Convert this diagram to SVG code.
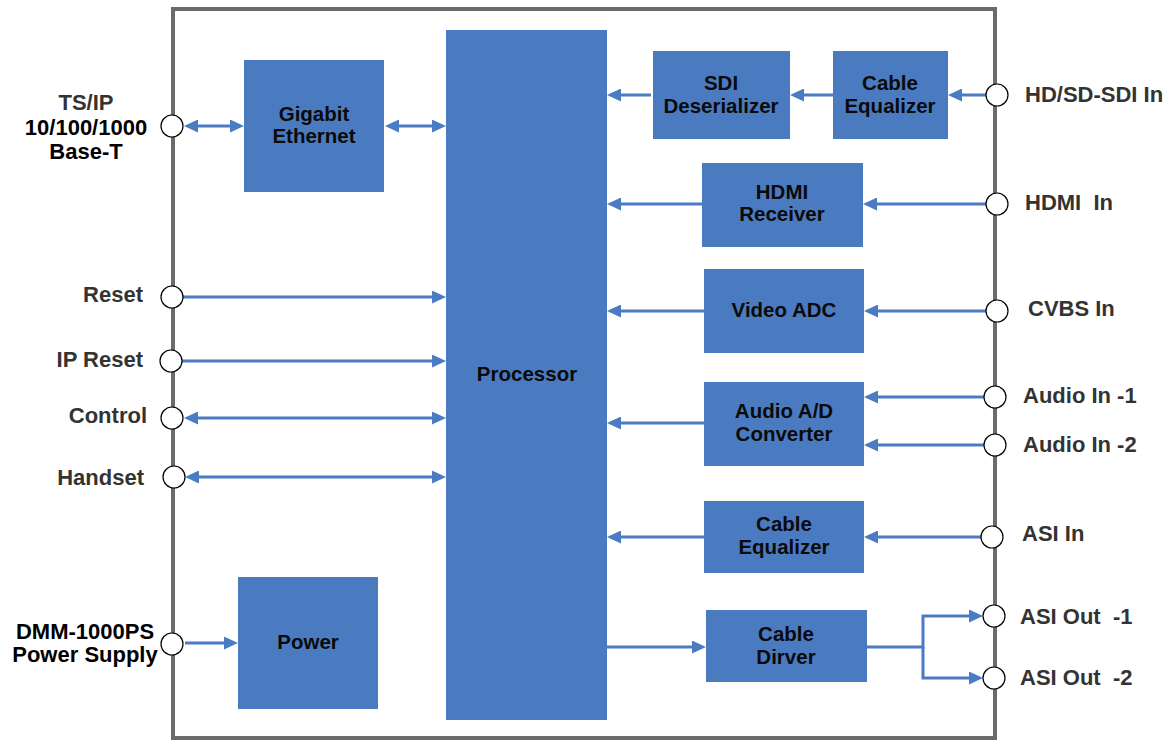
<svg xmlns="http://www.w3.org/2000/svg" width="1172" height="740" viewBox="0 0 1172 740">
<defs>
<style>
.box{fill:#4a7bc1;}
.bt{font-family:"Liberation Sans",Arial,sans-serif;font-weight:bold;font-size:20.5px;fill:#0a0a0a;text-anchor:middle;}
.lb{font-family:"Liberation Sans",Arial,sans-serif;font-weight:bold;font-size:22px;fill:#333333;}
.lk{fill:#000000;}
.port{fill:#ffffff;stroke:#000000;stroke-width:1.2;}
.frame{fill:none;stroke:#6b6b6b;stroke-width:4;}
.cn{fill:none;stroke:#4a7cc4;stroke-width:3;}
.one{marker-end:url(#ah);}
.two{marker-start:url(#ah);marker-end:url(#ah);}
</style>
<marker id="ah" markerUnits="userSpaceOnUse" markerWidth="14" markerHeight="13" refX="10" refY="6.5" orient="auto-start-reverse" viewBox="0 0 14 13">
<path d="M0,0 L14,6.5 L0,13 z" fill="#4a7cc4"/>
</marker>
</defs>
<rect width="1172" height="740" fill="#ffffff"/>
<rect class="frame" x="173" y="9" width="822" height="729"/>

<g id="processor"><rect class="box" x="446" y="30" width="161" height="690"/><text class="bt" x="527" y="381">Processor</text></g>
<g id="gigabit-ethernet"><rect class="box" x="244" y="60" width="140" height="132"/><text class="bt" x="314" y="121">Gigabit</text><text class="bt" x="314" y="143">Ethernet</text></g>
<g id="power"><rect class="box" x="238" y="577" width="140" height="132"/><text class="bt" x="308" y="649">Power</text></g>
<g id="sdi-deserializer"><rect class="box" x="653" y="51" width="137" height="88"/><text class="bt" x="721" y="90">SDI</text><text class="bt" x="721" y="113">Deserializer</text></g>
<g id="cable-equalizer-1"><rect class="box" x="833" y="51" width="115" height="88"/><text class="bt" x="890" y="90">Cable</text><text class="bt" x="890" y="113">Equalizer</text></g>
<g id="hdmi-receiver"><rect class="box" x="702" y="163" width="161" height="84"/><text class="bt" x="782" y="199">HDMI</text><text class="bt" x="782" y="221">Receiver</text></g>
<g id="video-adc"><rect class="box" x="704" y="269" width="160" height="84"/><text class="bt" x="784" y="317">Video ADC</text></g>
<g id="audio-ad"><rect class="box" x="704" y="382" width="160" height="84"/><text class="bt" x="784" y="418">Audio A/D</text><text class="bt" x="784" y="441">Converter</text></g>
<g id="cable-equalizer-2"><rect class="box" x="704" y="501" width="160" height="72"/><text class="bt" x="784" y="531">Cable</text><text class="bt" x="784" y="554">Equalizer</text></g>
<g id="cable-driver"><rect class="box" x="706" y="610" width="161" height="72"/><text class="bt" x="786" y="641">Cable</text><text class="bt" x="786" y="664">Dirver</text></g>

<g id="connectors">
<path class="cn two" d="M188,126 H240"/>
<path class="cn two" d="M389,126 H442"/>
<path class="cn one" d="M183,297 H442"/>
<path class="cn one" d="M182,361 H442"/>
<path class="cn two" d="M188,418 H442"/>
<path class="cn two" d="M189,477 H442"/>
<path class="cn one" d="M185,643 H234"/>
<path class="cn one" d="M986,95 H952"/>
<path class="cn one" d="M833,95 H794"/>
<path class="cn one" d="M651,95 H611"/>
<path class="cn one" d="M986,204 H867"/>
<path class="cn one" d="M702,204 H611"/>
<path class="cn one" d="M986,311 H868"/>
<path class="cn one" d="M704,311 H611"/>
<path class="cn one" d="M984,397 H868"/>
<path class="cn one" d="M984,445 H868"/>
<path class="cn one" d="M704,423 H611"/>
<path class="cn one" d="M981,537 H868"/>
<path class="cn one" d="M704,537 H611"/>
<path class="cn one" d="M607,647 H702"/>
<path class="cn one" d="M867,647 H923 V616 H979"/>
<path class="cn one" d="M923,647 V678 H979"/>
</g>

<g id="port-tsip"><circle class="port" cx="172" cy="126" r="11"/><text class="lb" x="86" y="110" text-anchor="middle">TS/IP</text><text class="lb lk" x="86" y="135" text-anchor="middle">10/100/1000</text><text class="lb lk" x="86" y="159" text-anchor="middle">Base-T</text></g>
<g id="port-reset"><circle class="port" cx="172" cy="297" r="11"/><text class="lb" x="143" y="302" text-anchor="end">Reset</text></g>
<g id="port-ipreset"><circle class="port" cx="171" cy="361" r="11"/><text class="lb" x="143" y="367" text-anchor="end">IP Reset</text></g>
<g id="port-control"><circle class="port" cx="172" cy="418" r="11"/><text class="lb" x="147" y="423" text-anchor="end">Control</text></g>
<g id="port-handset"><circle class="port" cx="174" cy="477" r="11"/><text class="lb" x="144" y="485" text-anchor="end">Handset</text></g>
<g id="port-power"><circle class="port" cx="172" cy="644" r="11"/><text class="lb lk" x="85" y="639" text-anchor="middle">DMM-1000PS</text><text class="lb lk" x="85" y="662" text-anchor="middle">Power Supply</text></g>
<g id="port-sdi"><circle class="port" cx="997" cy="95" r="11"/><text class="lb" x="1025" y="102">HD/SD-SDI In</text></g>
<g id="port-hdmi"><circle class="port" cx="997" cy="204" r="11"/><text class="lb" x="1025" y="210" xml:space="preserve">HDMI  In</text></g>
<g id="port-cvbs"><circle class="port" cx="997" cy="311" r="11"/><text class="lb" x="1028" y="316">CVBS In</text></g>
<g id="port-audio1"><circle class="port" cx="995" cy="397" r="11"/><text class="lb" x="1023" y="403">Audio In -1</text></g>
<g id="port-audio2"><circle class="port" cx="995" cy="445" r="11"/><text class="lb" x="1023" y="452">Audio In -2</text></g>
<g id="port-asiin"><circle class="port" cx="992" cy="537" r="11"/><text class="lb" x="1022" y="541">ASI In</text></g>
<g id="port-asiout1"><circle class="port" cx="994" cy="616" r="11"/><text class="lb" x="1020" y="624" xml:space="preserve">ASI Out  -1</text></g>
<g id="port-asiout2"><circle class="port" cx="994" cy="678" r="11"/><text class="lb" x="1020" y="685" xml:space="preserve">ASI Out  -2</text></g>
</svg>
